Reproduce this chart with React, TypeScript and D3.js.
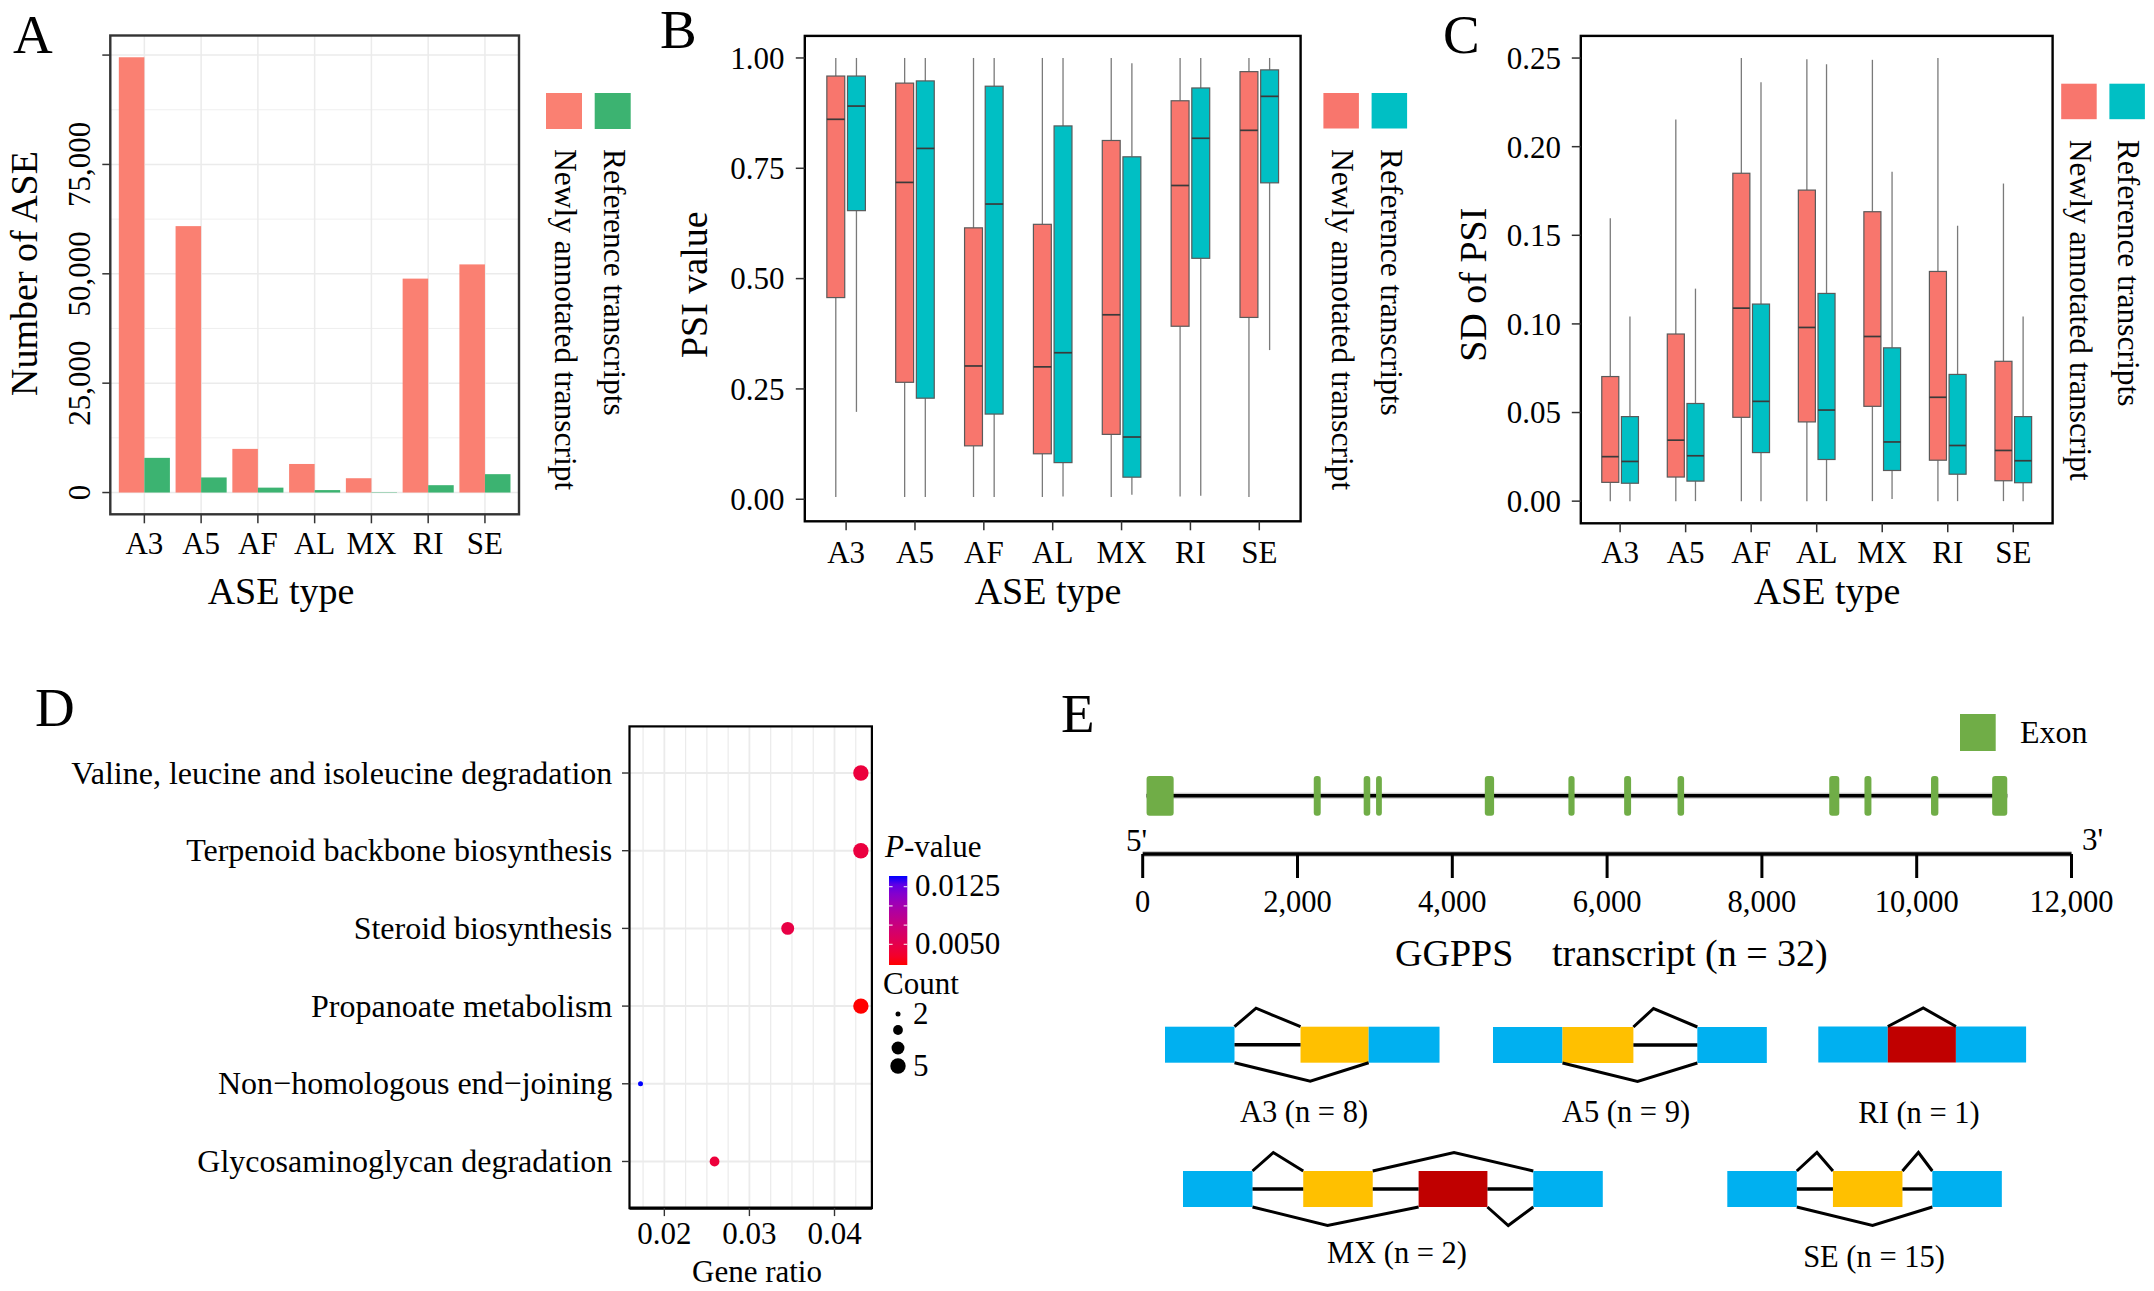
import React from 'react';
import * as d3 from 'd3';

// ---------------- data ----------------
const categories = ['A3', 'A5', 'AF', 'AL', 'MX', 'RI', 'SE'];
const seriesNames = ['Newly annotated transcript', 'Reference transcripts'];

// Panel A: number of ASE
const aseNewly = [99500, 60900, 9980, 6530, 3270, 48900, 52150];
const aseReference = [7930, 3450, 1120, 560, 90, 1680, 4200];
const aseTicks = [0, 25000, 50000, 75000, 100000];
const aseTickLabels = ['0', '25,000', '50,000', '75,000', ''];

// Panel B: PSI value boxplots [lowWhisker, q1, median, q3, highWhisker]
const psiNewly = [
  [0.005, 0.457, 0.861, 0.959, 1.0],
  [0.005, 0.265, 0.718, 0.943, 1.0],
  [0.005, 0.121, 0.302, 0.615, 1.0],
  [0.005, 0.103, 0.3, 0.623, 1.0],
  [0.005, 0.147, 0.418, 0.813, 1.0],
  [0.006, 0.392, 0.711, 0.903, 1.0],
  [0.005, 0.412, 0.836, 0.969, 1.0],
];
const psiReference = [
  [0.198, 0.654, 0.891, 0.959, 1.0],
  [0.005, 0.229, 0.795, 0.948, 1.0],
  [0.005, 0.193, 0.669, 0.936, 1.0],
  [0.006, 0.083, 0.332, 0.846, 1.0],
  [0.01, 0.05, 0.141, 0.776, 0.988],
  [0.008, 0.546, 0.818, 0.932, 1.0],
  [0.338, 0.717, 0.913, 0.973, 1.0],
];
const psiTicks = [0, 0.25, 0.5, 0.75, 1];
const psiTickLabels = ['0.00', '0.25', '0.50', '0.75', '1.00'];

// Panel C: SD of PSI boxplots
const sdNewly = [
  [0, 0.0106, 0.0251, 0.0703, 0.1596],
  [0, 0.0136, 0.0344, 0.0943, 0.2154],
  [0, 0.0473, 0.1089, 0.185, 0.25],
  [0, 0.0447, 0.098, 0.1755, 0.2493],
  [0, 0.0535, 0.0929, 0.1633, 0.249],
  [0, 0.0231, 0.0586, 0.1296, 0.25],
  [0, 0.0115, 0.0286, 0.0789, 0.1792],
];
const sdReference = [
  [0, 0.0101, 0.0224, 0.0477, 0.1042],
  [0, 0.0113, 0.0256, 0.0551, 0.1199],
  [0, 0.0274, 0.0563, 0.1112, 0.2364],
  [0, 0.0235, 0.0514, 0.1172, 0.2465],
  [0.0012, 0.0173, 0.0334, 0.0865, 0.1859],
  [0, 0.0152, 0.0314, 0.0715, 0.1554],
  [0, 0.0104, 0.0228, 0.0477, 0.1042],
];
const sdTicks = [0, 0.05, 0.1, 0.15, 0.2, 0.25];
const sdTickLabels = ['0.00', '0.05', '0.10', '0.15', '0.20', '0.25'];

// Panel D: KEGG enrichment
const pathways = [
  'Valine, leucine and isoleucine degradation',
  'Terpenoid backbone biosynthesis',
  'Steroid biosynthesis',
  'Propanoate metabolism',
  'Non\u2212homologous end\u2212joining',
  'Glycosaminoglycan degradation',
];
const pathwayRatios = [0.0431, 0.0431, 0.0345, 0.0431, 0.0172, 0.0259];
const pathwayCounts = [5, 5, 4, 5, 2, 3];
const pathwayP = [0.0043, 0.0044, 0.0047, 0.0023, 0.0139, 0.0042];
const ratioTicks = [0.02, 0.03, 0.04];
const ratioTickLabels = ['0.02', '0.03', '0.04'];
const ratioGrid = [0.0175, 0.02, 0.0225, 0.025, 0.0275, 0.03, 0.0325, 0.035, 0.0375, 0.04, 0.0425];
const pTicks = [0.005, 0.0075, 0.01, 0.0125];
const pTickLabels = ['0.0050', '', '', '0.0125'];
const countLegend = [2, 3, 4, 5];
const countLegendLabels = ['2', '', '', '5'];

// Panel E: GGPPS gene model
const geneStart = 50;
const geneEnd = 11170;
const exonStarts = [50, 2210, 2855, 3015, 4420, 5500, 6220, 6910, 8870, 9325, 10185, 10975];
const exonEnds = [400, 2300, 2940, 3090, 4540, 5580, 6310, 6995, 9000, 9415, 10280, 11170];
const bpTicks = [0, 2000, 4000, 6000, 8000, 10000, 12000];

// Splicing event schematics (abstract exon units)
const eventNames = ['A3', 'A5', 'RI', 'MX', 'SE'];
const eventCounts = [8, 9, 1, 2, 15];
const eventBlocks: [string, number, number][][] = [
  [['c', 0, 1], ['a', 1.95, 2.93], ['c', 2.93, 3.95]],
  [['c', 0, 1], ['a', 1, 2.02], ['c', 2.94, 3.94]],
  [['c', 0, 1], ['r', 1, 1.98], ['c', 1.98, 2.99]],
  [['c', 0, 1], ['a', 1.73, 2.73], ['r', 3.39, 4.38], ['c', 5.04, 6.04]],
  [['c', 0, 1], ['a', 1.52, 2.52], ['c', 2.95, 3.95]],
];
const eventLines: [number, number][][] = [
  [[1, 1.95]],
  [[2.02, 2.94]],
  [],
  [[1, 1.73], [2.73, 3.39], [4.38, 5.04]],
  [[1, 1.52], [2.52, 2.95]],
];
const eventUpArcs: [number, number, number][][] = [
  [[1, 1.31, 1.95]],
  [[2.02, 2.31, 2.94]],
  [[1, 1.51, 1.98]],
  [[1, 1.3, 1.73], [2.73, 3.9, 5.04]],
  [[1, 1.29, 1.52], [2.52, 2.75, 2.95]],
];
const eventDownArcs: [number, number, number][][] = [
  [[1, 2.09, 2.93]],
  [[1, 2.08, 2.94]],
  [],
  [[1, 2.08, 3.39], [4.38, 4.68, 5.04]],
  [[1, 2.09, 2.95]],
];

// ---------------- styling ----------------
const SERIF = '"Liberation Serif", "Times New Roman", Times, serif';
const COL_NEW_A = '#FA8072';
const COL_REF_A = '#3CB371';
const COL_NEW = '#F8766D';
const COL_REF = '#00BFC4';
const GRID = '#EBEBEB';
const EXON = '#70AD47';
const BLOCK_COLORS: Record<string, string> = { c: '#00B0F0', a: '#FFC000', r: '#C00000' };

function PanelLabel({ x, y, t }: { x: number; y: number; t: string }) {
  return (
    <text x={x} y={y} fontSize={55} fontFamily={SERIF}>
      {t}
    </text>
  );
}

function VLegend({ x, y, colors, size }: { x: number; y: number; colors: string[]; size: number }) {
  const gap = 12.7;
  return (
    <g>
      {colors.map((c, i) => (
        <rect key={i} x={x + i * (size + gap)} y={y} width={size} height={size} fill={c} />
      ))}
      {seriesNames.map((n, i) => (
        <text
          key={n}
          transform={`translate(${x + 9 + i * (size + gap)},${y + 56}) rotate(90)`}
          fontSize={31.5}
          fontFamily={SERIF}
        >
          {n}
        </text>
      ))}
    </g>
  );
}

function PanelA() {
  const f = { l: 110.3, r: 519, t: 35.5, b: 514.3 };
  const x = d3.scalePoint().domain(categories).range([f.l, f.r]).padding(0.6);
  const step = x.step();
  const max = d3.max(aseNewly) as number;
  const y = d3.scaleLinear().domain([-0.05 * max, 1.05 * max]).range([f.b, f.t]);
  const minor = aseTicks.slice(0, -1).map((t, i) => (t + aseTicks[i + 1]) / 2);
  const bw = 0.45 * step;
  return (
    <g fontFamily={SERIF}>
      <rect x={f.l} y={f.t} width={f.r - f.l} height={f.b - f.t} fill="white" />
      {minor.map((t) => (
        <line key={'m' + t} x1={f.l} x2={f.r} y1={y(t)} y2={y(t)} stroke={GRID} strokeWidth={0.8} />
      ))}
      {aseTicks.map((t) => (
        <line key={'g' + t} x1={f.l} x2={f.r} y1={y(t)} y2={y(t)} stroke={GRID} strokeWidth={1.5} />
      ))}
      {categories.map((c) => (
        <line key={'v' + c} x1={x(c)} x2={x(c)} y1={f.t} y2={f.b} stroke={GRID} strokeWidth={1.5} />
      ))}
      {categories.map((c, i) => (
        <g key={c}>
          <rect x={(x(c) as number) - bw} y={y(aseNewly[i])} width={bw} height={y(0) - y(aseNewly[i])} fill={COL_NEW_A} />
          <rect x={x(c) as number} y={y(aseReference[i])} width={bw} height={y(0) - y(aseReference[i])} fill={COL_REF_A} />
        </g>
      ))}
      <rect x={f.l} y={f.t} width={f.r - f.l} height={f.b - f.t} fill="none" stroke="#333" strokeWidth={2.4} />
      {aseTicks.map((t, i) => (
        <g key={'t' + t}>
          <line x1={f.l - 8} x2={f.l} y1={y(t)} y2={y(t)} stroke="#333" strokeWidth={1.5} />
          {aseTickLabels[i] !== '' && (
            <text transform={`translate(90,${y(t)}) rotate(-90)`} textAnchor="middle" fontSize={31}>
              {aseTickLabels[i]}
            </text>
          )}
        </g>
      ))}
      {categories.map((c) => (
        <g key={'x' + c}>
          <line x1={x(c)} x2={x(c)} y1={f.b} y2={f.b + 9} stroke="#333" strokeWidth={1.5} />
          <text x={x(c)} y={554} textAnchor="middle" fontSize={31}>
            {c}
          </text>
        </g>
      ))}
      <text transform="translate(36.5,273.5) rotate(-90)" textAnchor="middle" fontSize={38}>
        Number of ASE
      </text>
      <text x={281} y={603.5} textAnchor="middle" fontSize={38}>
        ASE type
      </text>
      <VLegend x={546} y={93} size={36} colors={[COL_NEW_A, COL_REF_A]} />
    </g>
  );
}

type BoxProps = {
  f: { l: number; r: number; t: number; b: number };
  newly: number[][];
  reference: number[][];
  ticks: number[];
  tickLabels: string[];
  yTitle: string;
  yTitleX: number;
  yTitleY: number;
  tickLabelX: number;
  xTitleX: number;
  legendX: number;
  legendY: number;
};

function BoxPanel(p: BoxProps) {
  const { f } = p;
  const x = d3.scalePoint().domain(categories).range([f.l, f.r]).padding(0.6);
  const step = x.step();
  const all = [...p.newly, ...p.reference].flat();
  const lo = Math.min(0, d3.min(all) as number);
  const hi = d3.max(all) as number;
  const pad = (hi - lo) * 0.05;
  const y = d3.scaleLinear().domain([lo - pad, hi + pad]).range([f.b, f.t]);
  const bw = 0.26 * step;
  const off = 0.15 * step;
  const series = [
    { d: p.newly, c: COL_NEW, o: -off },
    { d: p.reference, c: COL_REF, o: off },
  ];
  return (
    <g fontFamily={SERIF}>
      {series.map((s, si) =>
        categories.map((c, i) => {
          const [lw, q1, md, q3, hw] = s.d[i];
          const cx = (x(c) as number) + s.o;
          return (
            <g key={si + c}>
              <line x1={cx} x2={cx} y1={y(hw)} y2={y(q3)} stroke="#7a7a7a" strokeWidth={1.3} />
              <line x1={cx} x2={cx} y1={y(q1)} y2={y(lw)} stroke="#7a7a7a" strokeWidth={1.3} />
              <rect x={cx - bw / 2} y={y(q3)} width={bw} height={y(q1) - y(q3)} fill={s.c} stroke="#5a5a5a" strokeWidth={1.2} />
              <line x1={cx - bw / 2} x2={cx + bw / 2} y1={y(md)} y2={y(md)} stroke="#3a3a3a" strokeWidth={1.7} />
            </g>
          );
        })
      )}
      <rect x={f.l} y={f.t} width={f.r - f.l} height={f.b - f.t} fill="none" stroke="black" strokeWidth={2.4} />
      {p.ticks.map((t, i) => (
        <g key={'t' + t}>
          <line x1={f.l - 9} x2={f.l} y1={y(t)} y2={y(t)} stroke="#333" strokeWidth={1.5} />
          <text x={p.tickLabelX} y={y(t)} dy="0.35em" textAnchor="end" fontSize={31}>
            {p.tickLabels[i]}
          </text>
        </g>
      ))}
      {categories.map((c) => (
        <g key={'x' + c}>
          <line x1={x(c)} x2={x(c)} y1={f.b} y2={f.b + 9} stroke="#333" strokeWidth={1.5} />
          <text x={x(c)} y={563.3} textAnchor="middle" fontSize={31}>
            {c}
          </text>
        </g>
      ))}
      <text transform={`translate(${p.yTitleX},${p.yTitleY}) rotate(-90)`} textAnchor="middle" fontSize={38}>
        {p.yTitle}
      </text>
      <text x={p.xTitleX} y={604} textAnchor="middle" fontSize={38}>
        ASE type
      </text>
      <VLegend x={p.legendX} y={p.legendY} size={35.5} colors={[COL_NEW, COL_REF]} />
    </g>
  );
}

function PanelD() {
  const f = { l: 629.5, r: 871.9, t: 726.4, b: 1208.1 };
  const ext = d3.extent(pathwayRatios) as [number, number];
  const pad = (ext[1] - ext[0]) * 0.05;
  const x = d3.scaleLinear().domain([ext[0] - pad, ext[1] + pad]).range([f.l, f.r]);
  const y = d3.scalePoint().domain(pathways).range([f.t, f.b]).padding(0.6);
  const pExt = d3.extent(pathwayP) as [number, number];
  const color = d3.scaleLinear<string>().domain(pExt).range(['red', 'blue']).interpolate(d3.interpolateLab);
  const r = d3.scaleRadial().domain([2, 5]).range([2.5, 7.7]);
  const cb = { x: 889, w: 18.3, t: 876, b: 965 };
  const yc = d3.scaleLinear().domain(pExt).range([cb.b, cb.t]);
  const stops = d3.range(0, 1.0001, 0.1);
  const legendY = [1014, 1030, 1048, 1066];
  return (
    <g fontFamily={SERIF}>
      <defs>
        <linearGradient id="pgrad" x1="0" y1="1" x2="0" y2="0">
          {stops.map((s) => (
            <stop key={s} offset={s} stopColor={color(pExt[0] + s * (pExt[1] - pExt[0]))} />
          ))}
        </linearGradient>
      </defs>
      {ratioGrid.map((g) => (
        <line key={'vg' + g} x1={x(g)} x2={x(g)} y1={f.t} y2={f.b} stroke={GRID} strokeWidth={ratioTicks.includes(g) ? 1.8 : 1.2} />
      ))}
      {pathways.map((pw) => (
        <line key={'hg' + pw} x1={f.l} x2={f.r} y1={y(pw)} y2={y(pw)} stroke={GRID} strokeWidth={2} />
      ))}
      {pathways.map((pw, i) => (
        <circle key={'pt' + pw} cx={x(pathwayRatios[i])} cy={y(pw)} r={r(pathwayCounts[i])} fill={color(pathwayP[i])} />
      ))}
      <rect x={f.l} y={f.t} width={f.r - f.l} height={f.b - f.t} fill="none" stroke="black" strokeWidth={2.2} />
      <line x1={f.l} x2={f.r} y1={f.b} y2={f.b} stroke="black" strokeWidth={3.2} />
      {pathways.map((pw) => (
        <g key={'yl' + pw}>
          <line x1={f.l - 7.5} x2={f.l} y1={y(pw)} y2={y(pw)} stroke="#333" strokeWidth={1.4} />
          <text x={612.3} y={y(pw)} dy="0.33em" textAnchor="end" fontSize={32}>
            {pw}
          </text>
        </g>
      ))}
      {ratioTicks.map((t, i) => (
        <g key={'xt' + t}>
          <line x1={x(t)} x2={x(t)} y1={f.b} y2={f.b + 8} stroke="#333" strokeWidth={1.4} />
          <text x={x(t)} y={1243.5} textAnchor="middle" fontSize={31}>
            {ratioTickLabels[i]}
          </text>
        </g>
      ))}
      <text x={757} y={1282} textAnchor="middle" fontSize={31}>
        Gene ratio
      </text>
      {/* colour legend */}
      <text x={885} y={856.7} fontSize={31}>
        <tspan fontStyle="italic">P</tspan>-value
      </text>
      <rect x={cb.x} y={cb.t} width={cb.w} height={cb.b - cb.t} fill="url(#pgrad)" />
      {pTicks.map((t, i) => (
        <g key={'pt' + t}>
          <line x1={cb.x} x2={cb.x + 3.6} y1={yc(t)} y2={yc(t)} stroke="white" strokeWidth={1} />
          <line x1={cb.x + cb.w - 3.6} x2={cb.x + cb.w} y1={yc(t)} y2={yc(t)} stroke="white" strokeWidth={1} />
          {pTickLabels[i] !== '' && (
            <text x={915} y={yc(t)} dy="0.3em" fontSize={31}>
              {pTickLabels[i]}
            </text>
          )}
        </g>
      ))}
      {/* size legend */}
      <text x={883} y={994} fontSize={31}>
        Count
      </text>
      {countLegend.map((c, i) => (
        <g key={'cl' + c}>
          <circle cx={898} cy={legendY[i]} r={r(c)} fill="black" />
          {countLegendLabels[i] !== '' && (
            <text x={913} y={legendY[i]} dy="0.33em" fontSize={31}>
              {countLegendLabels[i]}
            </text>
          )}
        </g>
      ))}
    </g>
  );
}

function PanelE() {
  const x = d3.scaleLinear().domain([0, 12000]).range([1142.7, 2071.5]);
  const geneY = 795.7;
  const axisY = 854;
  const fmt = d3.format(',');
  const unit = 69.5;
  const exH = 36;
  const arcH = 18.5;
  const origins = [
    [1165, 1026.7],
    [1493, 1027],
    [1818.3, 1026.5],
    [1183, 1171],
    [1727.3, 1171],
  ];
  const labelPos = [
    [1304, 1121.7],
    [1626, 1121.7],
    [1919, 1123],
    [1397, 1263],
    [1874, 1266.7],
  ];
  return (
    <g fontFamily={SERIF}>
      <rect x={1960} y={714} width={35.7} height={37} fill={EXON} />
      <text x={2020} y={743.3} fontSize={32}>
        Exon
      </text>
      <line x1={x(geneStart)} x2={x(geneEnd)} y1={geneY} y2={geneY} stroke="#c8c8c8" strokeWidth={6} />
      <line x1={x(geneStart)} x2={x(geneEnd)} y1={geneY} y2={geneY} stroke="black" strokeWidth={3.4} />
      {exonStarts.map((s, i) => (
        <rect key={'ex' + i} x={x(s)} y={geneY - 19.7} width={x(exonEnds[i]) - x(s)} height={39.7} rx={3} fill={EXON} />
      ))}
      <line x1={x(0)} x2={x(12000)} y1={axisY} y2={axisY} stroke="#c8c8c8" strokeWidth={6} />
      <line x1={x(0)} x2={x(12000)} y1={axisY} y2={axisY} stroke="black" strokeWidth={3.4} />
      {bpTicks.map((t) => (
        <g key={'bp' + t}>
          <line x1={x(t)} x2={x(t)} y1={axisY} y2={axisY + 24} stroke="black" strokeWidth={3} />
          <text x={x(t)} y={911.7} textAnchor="middle" fontSize={30.5}>
            {fmt(t)}
          </text>
        </g>
      ))}
      <text x={1147} y={851} textAnchor="end" fontSize={31}>
        5'
      </text>
      <text x={2082} y={850} fontSize={31}>
        3'
      </text>
      <text x={1395} y={966} fontSize={38}>
        GGPPS
        <tspan x={1552}>transcript (n = 32)</tspan>
      </text>
      {eventNames.map((n, ei) => {
        const [ox, oy] = origins[ei];
        const ux = (u: number) => ox + u * unit;
        const top = oy;
        const bot = oy + exH;
        const mid = oy + exH / 2;
        const path = d3.line<[number, number]>();
        return (
          <g key={n}>
            {eventBlocks[ei].map(([k, a, b], bi) => (
              <rect key={bi} x={ux(a)} y={top} width={ux(b) - ux(a)} height={exH} fill={BLOCK_COLORS[k]} />
            ))}
            {eventLines[ei].map(([a, b], li) => (
              <line key={'l' + li} x1={ux(a)} x2={ux(b)} y1={mid} y2={mid} stroke="black" strokeWidth={3.4} />
            ))}
            {eventUpArcs[ei].map(([a, m, b], ai) => (
              <path
                key={'u' + ai}
                d={path([[ux(a), top], [ux(m), top - arcH], [ux(b), top]]) as string}
                fill="none"
                stroke="black"
                strokeWidth={3}
              />
            ))}
            {eventDownArcs[ei].map(([a, m, b], ai) => (
              <path
                key={'d' + ai}
                d={path([[ux(a), bot], [ux(m), bot + arcH], [ux(b), bot]]) as string}
                fill="none"
                stroke="black"
                strokeWidth={3}
              />
            ))}
            <text x={labelPos[ei][0]} y={labelPos[ei][1]} textAnchor="middle" fontSize={30.5}>
              {`${n} (n = ${eventCounts[ei]})`}
            </text>
          </g>
        );
      })}
    </g>
  );
}

export default function App() {
  return (
    <svg
      width={2154}
      height={1291}
      viewBox="0 0 2154 1291"
      style={{ position: 'absolute', left: 0, top: 0, display: 'block', background: 'white' }}
    >
      <rect x={0} y={0} width={2154} height={1291} fill="white" />
      <PanelLabel x={13} y={53.3} t="A" />
      <PanelLabel x={660} y={48} t="B" />
      <PanelLabel x={1443} y={53} t="C" />
      <PanelLabel x={35} y={726} t="D" />
      <PanelLabel x={1061} y={731.5} t="E" />
      <PanelA />
      <BoxPanel
        f={{ l: 804.8, r: 1300.6, t: 35.9, b: 521.3 }}
        newly={psiNewly}
        reference={psiReference}
        ticks={psiTicks}
        tickLabels={psiTickLabels}
        yTitle="PSI value"
        yTitleX={707}
        yTitleY={284.7}
        tickLabelX={784.4}
        xTitleX={1048}
        legendX={1323.4}
        legendY={93}
      />
      <BoxPanel
        f={{ l: 1580.8, r: 2052.6, t: 35.9, b: 523.3 }}
        newly={sdNewly}
        reference={sdReference}
        ticks={sdTicks}
        tickLabels={sdTickLabels}
        yTitle="SD of PSI"
        yTitleX={1486}
        yTitleY={284.7}
        tickLabelX={1561}
        xTitleX={1827}
        legendX={2061.2}
        legendY={83.7}
      />
      <PanelD />
      <PanelE />
    </svg>
  );
}
